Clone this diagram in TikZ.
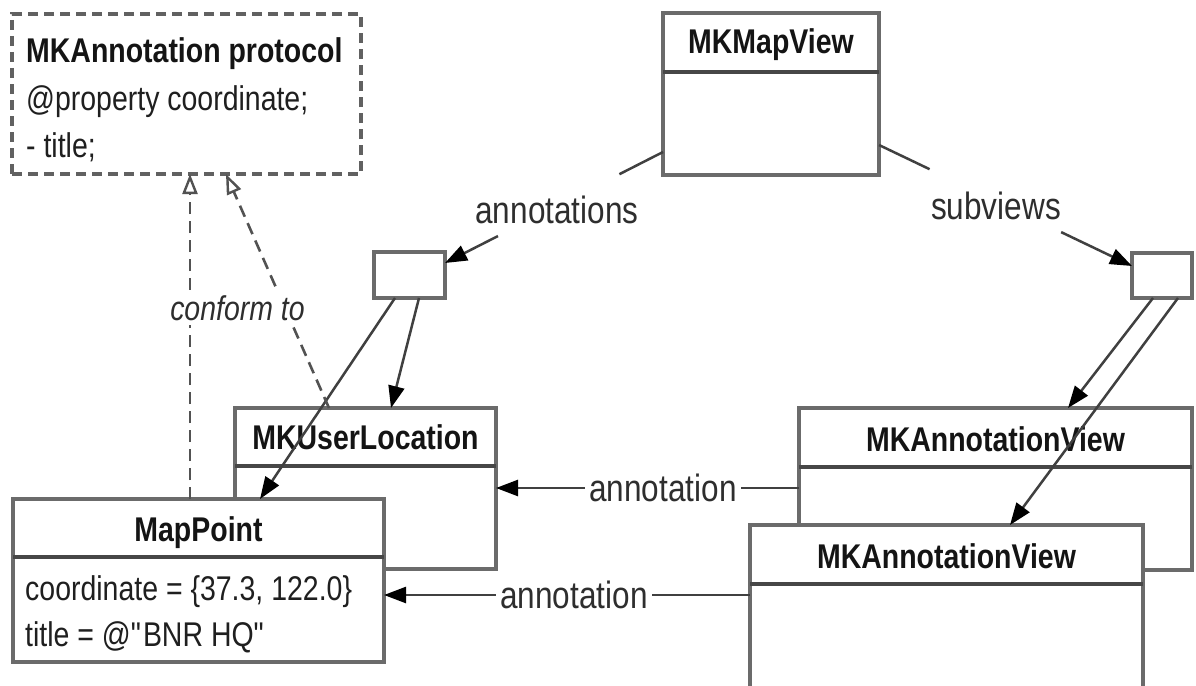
\documentclass[tikz,border=0pt]{standalone}
\usepackage{fontspec}
\setmainfont{Liberation Sans}[FakeStretch=0.83]
\usetikzlibrary{arrows.meta,calc}
\newcommand\dfont{\fontsize{34.3}{41}\selectfont}
\newcommand\lfont{\fontsize{38}{45}\selectfont}
\begin{document}
\begin{tikzpicture}[x=1pt,y=-1pt,
  classbox/.style={draw=black!58, line width=3.2pt, fill=white, rectangle, inner sep=0pt, outer sep=0pt, anchor=north west},
  protobox/.style={draw=black!62, line width=3.2pt, dash pattern=on 10pt off 6pt, rectangle, inner sep=0pt, outer sep=0pt, anchor=north west},
  divider/.style={draw=black!72, line width=3.4pt},
  title/.style={font=\dfont\bfseries, text=black!92, inner sep=0pt, anchor=base},
  plain/.style={font=\dfont, text=black!88, inner sep=0pt, anchor=base west},
  conn/.style={draw=black!75, line width=2.5pt},
  tip/.style={-{Triangle[length=22pt,width=16pt,color=black]}},
  realize/.style={draw=black!68, line width=2.6pt, dash pattern=on 12pt off 7pt, -{Triangle[open,length=20pt,width=15pt,fill=white,line width=2.4pt]}},
  lbl/.style={font=\lfont, text=black!82, fill=white, inner sep=4pt, anchor=base},
]
\useasboundingbox[fill=white] (0,0) rectangle (1196,685);

% protocol
\node[protobox, minimum width=349pt, minimum height=160pt] (proto) at (12,14) {};
\node[plain, font=\dfont\bfseries, text=black!92] (protoname) at (26,63) {MKAnnotation protocol};
\node[plain] (protoprop) at (26,110) {@property coordinate;};
\node[plain] (protometh) at (26,157) {- title;};

% MKMapView
\node[classbox, minimum width=216pt, minimum height=162pt] (mapview) at (663,13) {};
\draw[divider] ([yshift=-59pt]mapview.north west) -- ([yshift=-59pt]mapview.north east);
\node[title] (mapviewname) at (771,53) {MKMapView};

% collections
\node[classbox, minimum width=71pt, minimum height=46pt] (acoll) at (374,252) {};
\node[classbox, minimum width=60pt, minimum height=45pt] (scoll) at (1132,253) {};

% MKUserLocation
\node[classbox, minimum width=261pt, minimum height=161pt] (userloc) at (235,408) {};
\draw[divider] ([yshift=-58pt]userloc.north west) -- ([yshift=-58pt]userloc.north east);
\node[title] (userlocname) at (365.5,449) {MKUserLocation};

% MapPoint
\node[classbox, minimum width=371pt, minimum height=163pt] (mappoint) at (13,499) {};
\draw[divider] ([yshift=-58pt]mappoint.north west) -- ([yshift=-58pt]mappoint.north east);
\node[title] (mappointname) at (198.5,541) {MapPoint};
\node[plain] (mpcoord) at (25,600) {coordinate = \{37.3, 122.0\}};
\node[plain] (mptitle) at (25,646) {title = @\textquotedbl BNR HQ\textquotedbl};

% connectors from annotations collection
\draw[conn,tip] ([xshift=45pt]acoll.south west) -- ([xshift=156pt]userloc.north west);
\draw[conn,tip] ([xshift=21pt]acoll.south west) -- ([xshift=247pt]mappoint.north west);

% MKAnnotationViews
\node[classbox, minimum width=393pt, minimum height=162pt] (backview) at (799,408) {};
\draw[divider] ([yshift=-59pt]backview.north west) -- ([yshift=-59pt]backview.north east);
\node[title] (backviewname) at (995.5,451) {MKAnnotationView};

\node[classbox, minimum width=393pt, minimum height=180pt] (frontview) at (750,525) {};
\draw[divider] ([yshift=-59pt]frontview.north west) -- ([yshift=-59pt]frontview.north east);
\node[title] (frontviewname) at (946.5,568) {MKAnnotationView};

% connectors from subviews collection
\draw[conn,tip] ([xshift=21pt]scoll.south west) -- ([xshift=269pt]backview.north west);
\draw[conn,tip] ([xshift=46pt]scoll.south west) -- ([xshift=260pt]frontview.north west);

% annotations / subviews
\coordinate (annA) at ([yshift=-139pt]mapview.north west);
\coordinate (annB) at ([yshift=-11pt]acoll.north east);
\draw[conn] (annA) -- ($(annA)!0.2!(annB)$);
\draw[conn,tip] ($(annA)!0.757!(annB)$) -- (annB);
\node[lbl] (annlabel) at (557,223) {annotations};

\coordinate (subA) at ([yshift=-132pt]mapview.north east);
\coordinate (subB) at ([yshift=-13pt]scoll.north west);
\draw[conn] (subA) -- ($(subA)!0.2!(subB)$);
\draw[conn,tip] ($(subA)!0.72!(subB)$) -- (subB);
\node[lbl] (sublabel) at (996,219) {subviews};

% annotation links
\draw[conn,tip] ([yshift=-80pt]backview.north west) -- ([yshift=-80pt]userloc.north east);
\node[lbl] (annolabelA) at (663,501) {annotation};
\draw[conn,tip] ([yshift=-70pt]frontview.north west) -- ([yshift=-96pt]mappoint.north east);
\node[lbl] (annolabelB) at (574,608) {annotation};

% conform to
\draw[realize] ([xshift=177pt]mappoint.north west) -- ([xshift=178pt]proto.south west);
\draw[realize] ([xshift=94pt]userloc.north west) -- ([xshift=214pt]proto.south west);
\node[lbl, font=\dfont\itshape, inner sep=5pt] (conformlabel) at (237.5,320) {conform to};
\end{tikzpicture}
\end{document}
